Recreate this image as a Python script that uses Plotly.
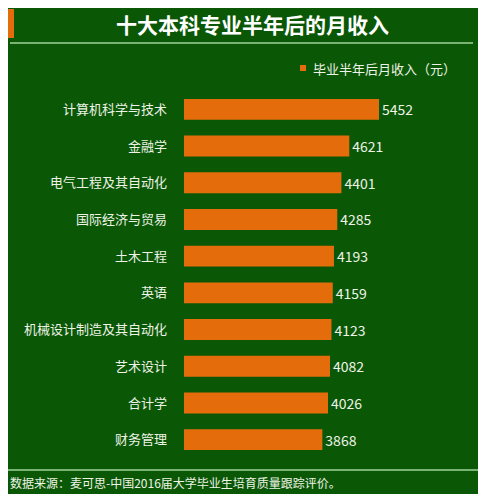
import plotly.graph_objects as go

# data (top to bottom)
majors = [
    "计算机科学与技术",
    "金融学",
    "电气工程及其自动化",
    "国际经济与贸易",
    "土木工程",
    "英语",
    "机械设计制造及其自动化",
    "艺术设计",
    "合计学",
    "财务管理",
]
income = [5452, 4621, 4401, 4285, 4193, 4159, 4123, 4082, 4026, 3868]

series_name = "毕业半年后月收入（元）"
title_text = "十大本科专业半年后的月收入"
source_text = "数据来源：麦可思-中国2016届大学毕业生培育质量跟踪评价。"

GREEN = "#0a5806"
ORANGE = "#e46c0a"
LINE = "#9fd39a"
TEXT = "#eef3e6"
FONT = "Noto Sans CJK SC"

# page has an 8px body margin, so the figure starts at (8, 8) of the window
OFF = 8
W, H = 486 - OFF, 500 - OFF
# plot area in window pixels
X0, X1, Y0, Y1 = 184, 460, 91, 458
L, R, T, B = X0 - OFF, W - (X1 - OFF), Y0 - OFF, H - (Y1 - OFF)
pw, ph = X1 - X0, Y1 - Y0


def px(x):
    return (x - X0) / pw


def py(y):
    return (Y1 - y) / ph


fig = go.Figure(
    go.Bar(
        y=majors,
        x=income,
        orientation="h",
        name=series_name,
        marker=dict(color=ORANGE, line=dict(width=0)),
        text=[str(v) for v in income],
        textposition="outside",
        textfont=dict(color=TEXT, size=14, family=FONT),
        cliponaxis=False,
        showlegend=False,
    )
)

shapes = [
    # green panel
    dict(type="rect", xref="paper", yref="paper", x0=px(7), x1=px(478), y0=py(494), y1=py(5),
         fillcolor=GREEN, line=dict(width=0), layer="below"),
    # orange tab at the title
    dict(type="rect", xref="paper", yref="paper", x0=px(7), x1=px(14), y0=py(38), y1=py(9),
         fillcolor=ORANGE, line=dict(width=0), layer="below"),
    # separators
    dict(type="line", xref="paper", yref="paper", x0=px(10), x1=px(473), y0=py(43), y1=py(43),
         line=dict(color=LINE, width=1.5)),
    dict(type="line", xref="paper", yref="paper", x0=px(7), x1=px(478), y0=py(470), y1=py(470),
         line=dict(color=LINE, width=1.5)),
    # legend swatch
    dict(type="rect", xref="paper", yref="paper", x0=px(300), x1=px(306), y0=py(71), y1=py(65),
         fillcolor=ORANGE, line=dict(width=0)),
]

annotations = [
    dict(text=f"<b>{title_text}</b>", xref="paper", yref="paper", x=px(252), y=py(24),
         xanchor="center", yanchor="middle", showarrow=False,
         font=dict(size=21, color="white", family=FONT)),
    dict(text=series_name, xref="paper", yref="paper", x=px(311), y=py(68),
         xanchor="left", yanchor="middle", showarrow=False,
         font=dict(size=13, color=TEXT, family=FONT)),
    dict(text=source_text, xref="paper", yref="paper", x=px(8), y=py(482),
         xanchor="left", yanchor="middle", showarrow=False,
         font=dict(size=12, color=TEXT, family=FONT)),
]

fig.update_layout(
    width=W,
    height=H,
    margin=dict(l=L, r=R, t=T, b=B),
    paper_bgcolor="white",
    plot_bgcolor="rgba(0,0,0,0)",
    bargap=0.43,
    shapes=shapes,
    annotations=annotations,
    font=dict(family=FONT),
)
fig.update_xaxes(range=[0, pw * 5452 / 195], visible=False, fixedrange=True)
fig.update_yaxes(
    autorange="reversed",
    showgrid=False,
    showline=False,
    ticks="",
    ticklabelstandoff=16,
    tickfont=dict(size=13, color=TEXT, family=FONT),
    fixedrange=True,
)

fig.write_html("out.html")
